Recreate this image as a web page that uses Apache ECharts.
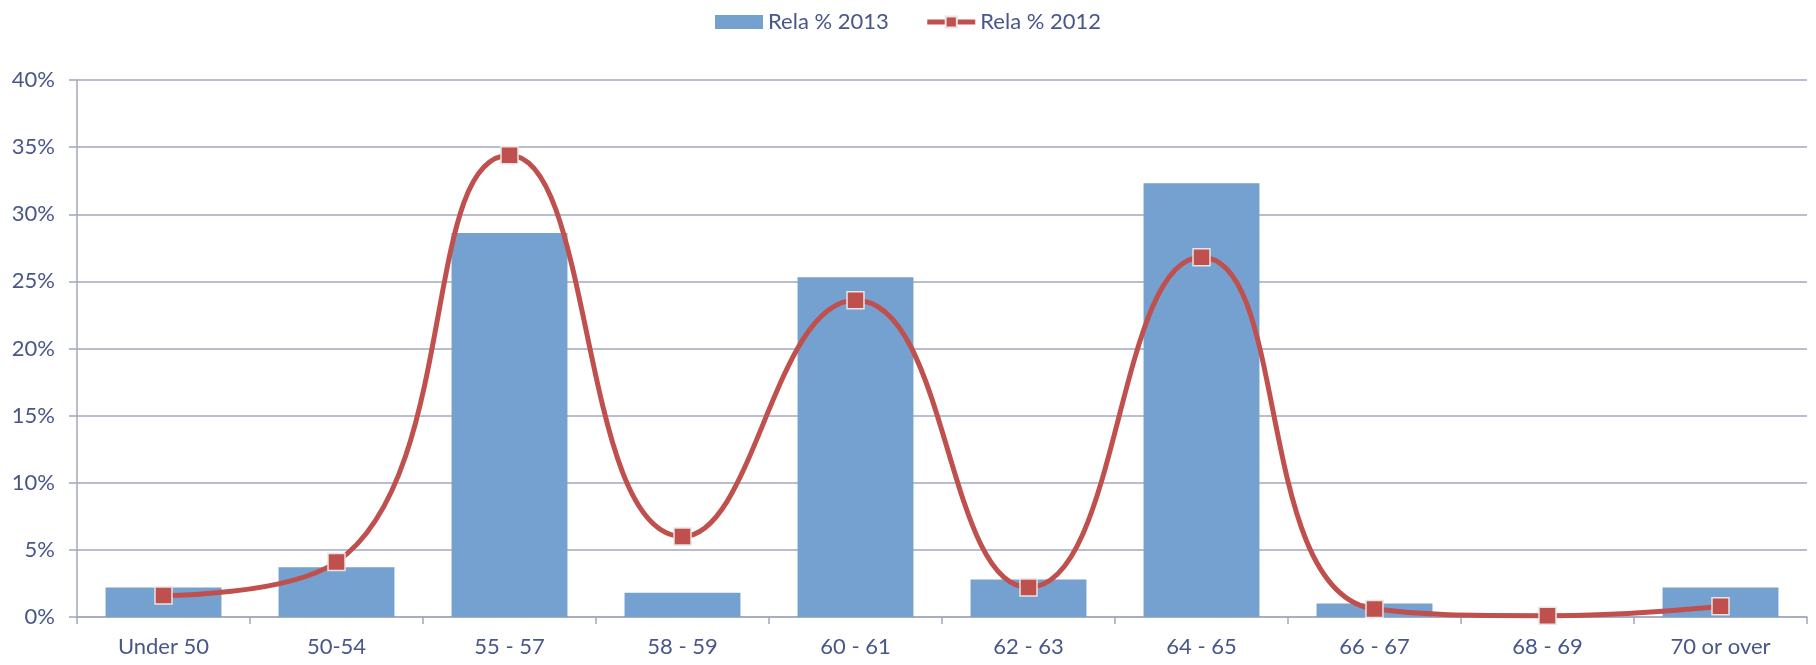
<!DOCTYPE html>
<html>
<head>
<meta charset="utf-8">
<script src="https://cdn.jsdelivr.net/npm/echarts@6/dist/echarts.min.js"></script>
<style>
  html, body { margin: 0; padding: 0; background: #fff; }
  #chart { width: 1816px; height: 665px; }
</style>
</head>
<body>
<div id="chart"></div>
<script>
// Age bands and the relative share of each band (percent)
const categories = ['Under 50', '50-54', '55 - 57', '58 - 59', '60 - 61', '62 - 63', '64 - 65', '66 - 67', '68 - 69', '70 or over'];
const rela2013 = [2.2, 3.7, 28.6, 1.8, 25.3, 2.8, 32.3, 1.0, 0.1, 2.2];
const rela2012 = [1.6, 4.1, 34.4, 6.0, 23.6, 2.2, 26.8, 0.6, 0.1, 0.8];
const yTicks = [0, 5, 10, 15, 20, 25, 30, 35, 40];

const textColor = '#48578A';
const gridColor = '#A3A7C0';
const font = 'Lato, "Open Sans", sans-serif';

const chart = echarts.init(document.getElementById('chart'), null, { renderer: 'canvas' });
chart.setOption({
  animation: false,
  legend: {
    top: 6,
    left: 'center',
    itemGap: 36,
    itemWidth: 48,
    itemHeight: 14,
    textStyle: { color: textColor, fontSize: 22, fontFamily: font },
    data: [
      { name: 'Rela % 2013', icon: 'rect' },
      { name: 'Rela % 2012', lineStyle: { width: 5 } }
    ]
  },
  grid: { left: 77, right: 9, top: 80, bottom: 48, containLabel: false },
  xAxis: {
    type: 'category',
    data: categories,
    axisLine: { lineStyle: { color: gridColor, width: 1.5 } },
    axisTick: { show: true, alignWithLabel: false, length: 7, lineStyle: { color: gridColor, width: 1.5 } },
    axisLabel: { color: textColor, fontSize: 22, fontFamily: font, margin: 19 }
  },
  yAxis: {
    type: 'value',
    min: yTicks[0],
    max: yTicks[yTicks.length - 1],
    interval: 5,
    axisLine: { show: true, lineStyle: { color: gridColor, width: 1.5 } },
    axisTick: { show: true, length: 8, lineStyle: { color: gridColor, width: 1.5 } },
    splitLine: { lineStyle: { color: gridColor, width: 1.5 } },
    axisLabel: { color: textColor, fontSize: 22, fontFamily: font, margin: 22, formatter: v => v + '%' }
  },
  series: [
    {
      name: 'Rela % 2013',
      type: 'bar',
      data: rela2013,
      barCategoryGap: '33%',
      itemStyle: { color: '#74A1D0' }
    },
    {
      name: 'Rela % 2012',
      type: 'line',
      data: rela2012,
      smooth: 0.5,
      symbol: 'rect',
      symbolSize: 17,
      lineStyle: { color: '#C0504D', width: 5 },
      itemStyle: { color: '#C0504D', borderColor: '#E8E4E4', borderWidth: 1.5 },
      z: 3
    }
  ]
});
</script>
</body>
</html>
